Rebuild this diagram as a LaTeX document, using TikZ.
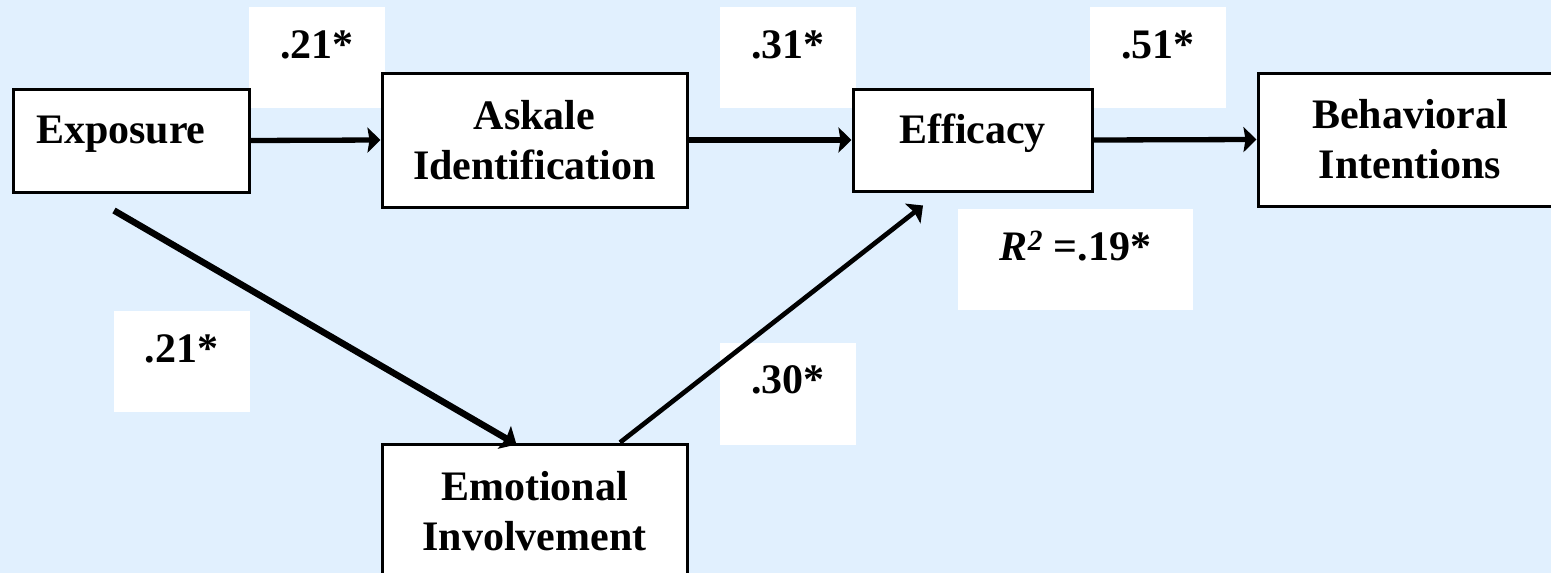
\documentclass[tikz,border=0pt]{standalone}
\usepackage{fontspec}
\setmainfont{Liberation Serif}
\usetikzlibrary{arrows.meta,calc}
\definecolor{bg}{RGB}{225,240,254}
\begin{document}
\begin{tikzpicture}[x=1pt,y=-1pt,
  every node/.style={font=\fontsize{42}{50}\selectfont\bfseries, text=black},
  var/.style={draw=black, line width=3pt, fill=white, inner sep=0pt, align=center},
  coef/.style={fill=white, inner sep=0pt, minimum width=136pt, text height=51pt, text depth=50pt, anchor=base},
  link/.style={line width=5.3pt, -{Stealth[length=13pt,width=25pt,inset=2pt]}}
]
\fill[bg] (0,0) rectangle (1551,573);
\useasboundingbox (0,0) rectangle (1551,573);
\clip (0,0) rectangle (1551,573);

% coefficient labels
\node[coef] (c1) at (317,58) {.21*};
\node[coef] (c2) at (788,58) {.31*};
\node[coef] (c3) at (1158,58) {.51*};
\node[coef] (c4) at (181.5,362) {.21*};
\node[coef, text height=50pt, text depth=52pt] (c5) at (788,393) {.30*};
\node[coef, minimum width=235pt] (c6) at (1075.5,260) {\textit{R}\textsuperscript{\textit{2}} =.19*};

% variables
\node[var, text width=190pt, align=left, inner xsep=23pt, text height=54pt, text depth=49pt, anchor=base] (exp) at (131,143) {Exposure};
\node[var, minimum width=305pt, minimum height=134pt] (ask) at (534.5,140) {Askale\\Identification};
\node[var, minimum width=239pt, text height=54pt, text depth=48pt, anchor=base] (eff) at (972.5,143) {Efficacy};
\node[var, minimum width=304pt, minimum height=133pt] (beh) at (1410,139.5) {Behavioral\\Intentions};
\node[var, minimum width=305pt, minimum height=134pt] (emo) at (534.5,511) {Emotional\\Involvement};

% paths
\draw[link] (exp.east) -- (ask.west);
\draw[link] (ask.east) -- (eff.west);
\draw[link] (eff.east) -- (beh.west);
\draw[link, line width=6.5pt, -{Stealth[length=14pt,width=26pt,inset=2pt]}] ($(exp.south)+(-17,17)$) -- ($(emo.north)+(-18,2)$);
\draw[link, line width=4.7pt] ($(emo.north)+(85.5,0)$) -- ($(eff.south)+(-49.5,13)$);
\end{tikzpicture}
\end{document}
